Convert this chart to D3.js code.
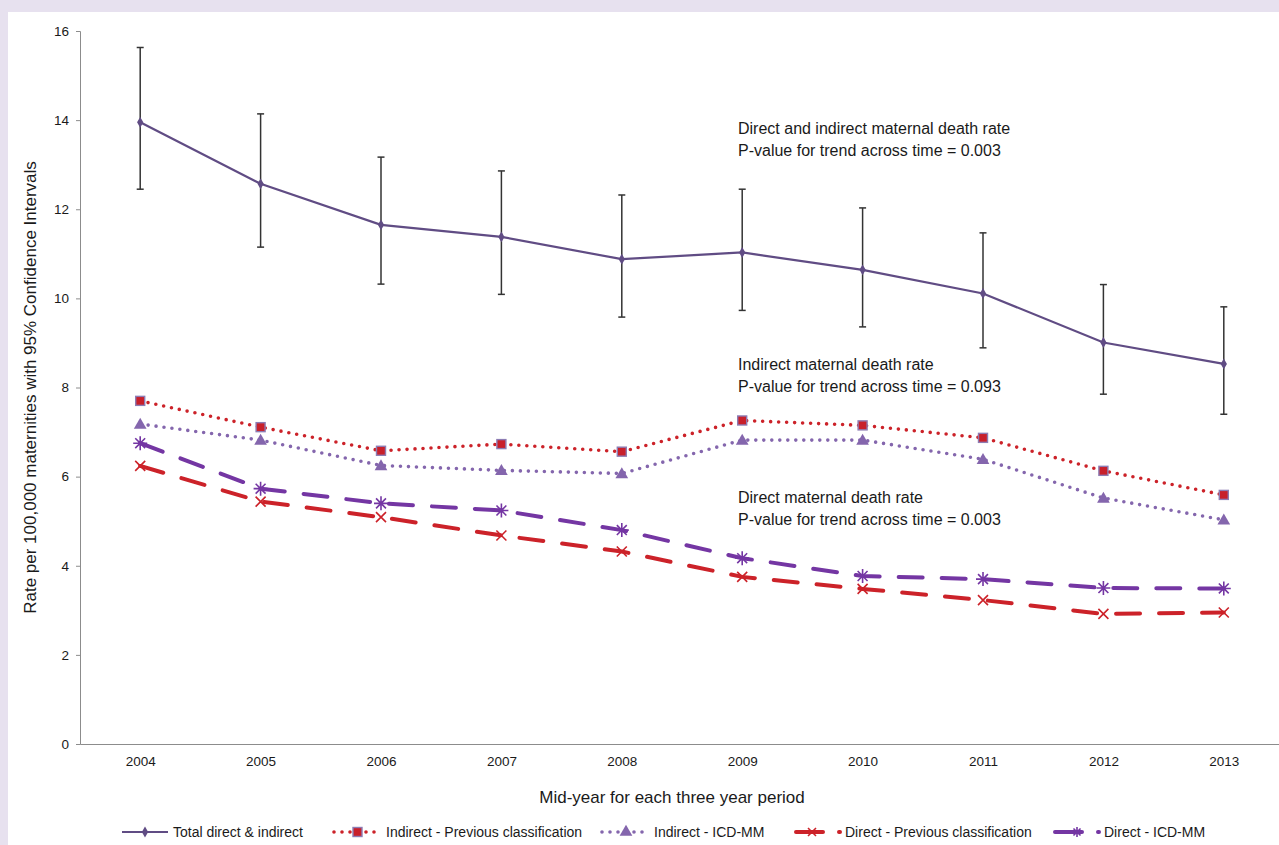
<!DOCTYPE html>
<html>
<head>
<meta charset="utf-8">
<script src="https://cdn.jsdelivr.net/npm/d3@7"></script>
<style>
  html, body { margin: 0; padding: 0; background: #e7e1ef; }
  svg { display: block; font-family: "Liberation Sans", Arial, sans-serif; }
</style>
</head>
<body>
<svg id="chart"></svg>
<script>
// values
const years = ['2004', '2005', '2006', '2007', '2008', '2009', '2010', '2011', '2012', '2013'];
const totalRate = [13.95, 12.57, 11.65, 11.38, 10.88, 11.03, 10.64, 10.11, 9.01, 8.53];
const totalLower = [12.45, 11.15, 10.32, 10.09, 9.58, 9.73, 9.36, 8.89, 7.85, 7.40];
const totalUpper = [15.63, 14.14, 13.17, 12.86, 12.32, 12.45, 12.03, 11.47, 10.31, 9.81];
const indirectPrev = [7.70, 7.11, 6.58, 6.73, 6.56, 7.26, 7.15, 6.87, 6.13, 5.59];
const indirectIcd = [7.18, 6.82, 6.25, 6.14, 6.07, 6.82, 6.82, 6.39, 5.52, 5.03];
const directPrev = [6.24, 5.44, 5.09, 4.68, 4.32, 3.75, 3.48, 3.23, 2.92, 2.95];
const directIcd = [6.75, 5.73, 5.40, 5.24, 4.80, 4.17, 3.77, 3.70, 3.50, 3.49];
const yTicks = [0, 2, 4, 6, 8, 10, 12, 14, 16];

const legendLabels = ['Total direct & indirect', 'Indirect - Previous classification',
  'Indirect - ICD-MM', 'Direct - Previous classification', 'Direct - ICD-MM'];

const annotations = [
  { lines: ['Direct and indirect maternal death rate', 'P-value for trend across time = 0.003'], v: 13.69 },
  { lines: ['Indirect maternal death rate', 'P-value for trend across time = 0.093'], v: 8.39 },
  { lines: ['Direct maternal death rate', 'P-value for trend across time = 0.003'], v: 5.41 },
];

const width = 1279, height = 845;
const margin = { left: 80, top: 31, right: -5, bottom: 101 };

const svg = d3.select('#chart').attr('width', width).attr('height', height);

// white panel over the lavender page
svg.append('rect').attr('x', 8).attr('y', 12)
  .attr('width', width - 8).attr('height', height - 12).attr('fill', '#ffffff');

const x = d3.scalePoint().domain(years)
  .range([margin.left, width - margin.right]).padding(0.5);
const y = d3.scaleLinear().domain([0, 16]).range([height - margin.bottom, margin.top]);

// axes
const yAxis = svg.append('g').attr('transform', `translate(${margin.left},0)`)
  .call(d3.axisLeft(y).tickValues(yTicks).tickSize(4).tickPadding(7));
yAxis.select('.domain').attr('stroke', '#8c8c8c');
yAxis.selectAll('.tick line').attr('stroke', '#8c8c8c');
yAxis.selectAll('.tick text').attr('font-size', 13.5).attr('fill', '#1a1a1a')
  .attr('font-family', '"Liberation Sans", Arial, sans-serif');

const xAxis = svg.append('g').attr('transform', `translate(0,${y(0)})`)
  .call(d3.axisBottom(x).tickSize(0).tickPadding(12).tickSizeOuter(0));
xAxis.select('.domain').attr('stroke', '#8c8c8c');
xAxis.selectAll('.tick text').attr('font-size', 13.5).attr('fill', '#1a1a1a')
  .attr('font-family', '"Liberation Sans", Arial, sans-serif');

svg.append('text')
  .attr('transform', `translate(36,${(y(0) + y(16)) / 2}) rotate(-90)`)
  .attr('text-anchor', 'middle').attr('font-size', 17).attr('fill', '#1a1a1a')
  .text('Rate per 100,000 maternities with 95% Confidence Intervals');

svg.append('text')
  .attr('x', 672).attr('y', 803)
  .attr('text-anchor', 'middle').attr('font-size', 17).attr('fill', '#1a1a1a')
  .text('Mid-year for each three year period');

// marker shapes
const asterisk = (r) => {
  let p = '';
  [0, 45, 90, 135].forEach((a) => {
    const rad = a * Math.PI / 180;
    const dx = Math.cos(rad) * r, dy = Math.sin(rad) * r;
    p += `M${-dx},${-dy}L${dx},${dy}`;
  });
  return p;
};
const cross = (r) => `M${-r},${-r}L${r},${r}M${-r},${r}L${r},${-r}`;

const series = [
  { values: directPrev, color: '#cc2229', width: 4, dash: '24,19', cap: 'round',
    marker: (g) => g.append('path').attr('d', cross(5)).attr('stroke', '#cc2229').attr('stroke-width', 1.6).attr('fill', 'none') },
  { values: directIcd, color: '#7436a3', width: 4, dash: '24,19', cap: 'round',
    marker: (g) => g.append('path').attr('d', asterisk(7)).attr('stroke', '#7436a3').attr('stroke-width', 1.6).attr('fill', 'none') },
  { values: indirectIcd, color: '#8466ad', width: 3.6, dash: '0,8', cap: 'round',
    marker: (g) => g.append('path').attr('d', d3.symbol(d3.symbolTriangle, 70)()).attr('fill', '#8466ad').attr('transform', 'translate(0,1)') },
  { values: indirectPrev, color: '#cc2229', width: 3.6, dash: '0,8', cap: 'round',
    marker: (g) => g.append('rect').attr('x', -4.5).attr('y', -4.5).attr('width', 9).attr('height', 9)
      .attr('fill', '#c8202b').attr('stroke', '#8d7cb3').attr('stroke-width', 1.4) },
];

const line = d3.line().x((d, i) => x(years[i])).y((d) => y(d));

series.forEach((s) => {
  svg.append('path').datum(s.values)
    .attr('d', line).attr('fill', 'none')
    .attr('stroke', s.color).attr('stroke-width', s.width)
    .attr('stroke-dasharray', s.dash).attr('stroke-linecap', s.cap);
  svg.append('g').selectAll('g').data(s.values).join('g')
    .attr('transform', (d, i) => `translate(${x(years[i])},${y(d)})`)
    .each(function () { s.marker(d3.select(this)); });
});

// error bars for the total series
const bars = svg.append('g').selectAll('g').data(years).join('g');
bars.append('line')
  .attr('x1', (d) => x(d)).attr('x2', (d) => x(d))
  .attr('y1', (d, i) => y(totalLower[i])).attr('y2', (d, i) => y(totalUpper[i]))
  .attr('stroke', '#333333').attr('stroke-width', 1.5);
[totalLower, totalUpper].forEach((arr) => {
  bars.append('line')
    .attr('x1', (d) => x(d) - 3.5).attr('x2', (d) => x(d) + 3.5)
    .attr('y1', (d, i) => y(arr[i])).attr('y2', (d, i) => y(arr[i]))
    .attr('stroke', '#333333').attr('stroke-width', 1.5);
});

svg.append('path').datum(totalRate)
  .attr('d', line).attr('fill', 'none')
  .attr('stroke', '#604c84').attr('stroke-width', 2.2);
svg.append('g').selectAll('path').data(totalRate).join('path')
  .attr('d', d3.symbol(d3.symbolDiamond, 34)())
  .attr('transform', (d, i) => `translate(${x(years[i])},${y(d)})`)
  .attr('fill', '#604c84');

// annotations
annotations.forEach((a) => {
  const t = svg.append('text').attr('x', 738).attr('y', y(a.v))
    .attr('font-size', 16).attr('fill', '#1a1a1a');
  a.lines.forEach((l, i) => {
    t.append('tspan').attr('x', 738).attr('dy', i === 0 ? 0 : 22).text(l);
  });
});

// legend
const ly = 832;
const legend = svg.append('g');
const legendItems = [
  { tx: 173, draw: (g) => {
    g.append('line').attr('x1', 122).attr('x2', 168).attr('y1', ly).attr('y2', ly)
      .attr('stroke', '#604c84').attr('stroke-width', 2.2);
    g.append('path').attr('d', d3.symbol(d3.symbolDiamond, 34)()).attr('transform', `translate(145,${ly})`).attr('fill', '#604c84');
  } },
  { tx: 386, draw: (g) => {
    g.append('line').attr('x1', 334).attr('x2', 381).attr('y1', ly).attr('y2', ly)
      .attr('stroke', '#cc2229').attr('stroke-width', 3.6).attr('stroke-dasharray', '0,8').attr('stroke-linecap', 'round');
    g.append('rect').attr('x', 353).attr('y', ly - 4.5).attr('width', 9).attr('height', 9)
      .attr('fill', '#c8202b').attr('stroke', '#8d7cb3').attr('stroke-width', 1.4);
  } },
  { tx: 654, draw: (g) => {
    g.append('line').attr('x1', 602).attr('x2', 650).attr('y1', ly).attr('y2', ly)
      .attr('stroke', '#8466ad').attr('stroke-width', 3.6).attr('stroke-dasharray', '0,8').attr('stroke-linecap', 'round');
    g.append('path').attr('d', d3.symbol(d3.symbolTriangle, 70)()).attr('transform', `translate(626,${ly})`).attr('fill', '#8466ad');
  } },
  { tx: 845, draw: (g) => {
    g.append('line').attr('x1', 796).attr('x2', 840).attr('y1', ly).attr('y2', ly)
      .attr('stroke', '#cc2229').attr('stroke-width', 4).attr('stroke-dasharray', '27,16').attr('stroke-linecap', 'round');
    g.append('path').attr('d', cross(4)).attr('transform', `translate(812,${ly})`)
      .attr('stroke', '#cc2229').attr('stroke-width', 1.6).attr('fill', 'none');
  } },
  { tx: 1104, draw: (g) => {
    g.append('line').attr('x1', 1055).attr('x2', 1099).attr('y1', ly).attr('y2', ly)
      .attr('stroke', '#7436a3').attr('stroke-width', 4).attr('stroke-dasharray', '27,16').attr('stroke-linecap', 'round');
    g.append('path').attr('d', asterisk(5)).attr('transform', `translate(1077,${ly})`)
      .attr('stroke', '#7436a3').attr('stroke-width', 1.6).attr('fill', 'none');
  } },
];
legendItems.forEach((item, i) => {
  const g = legend.append('g');
  item.draw(g);
  g.append('text').attr('x', item.tx).attr('y', ly + 5)
    .attr('font-size', 14).attr('fill', '#1a1a1a').text(legendLabels[i]);
});
</script>
</body>
</html>
